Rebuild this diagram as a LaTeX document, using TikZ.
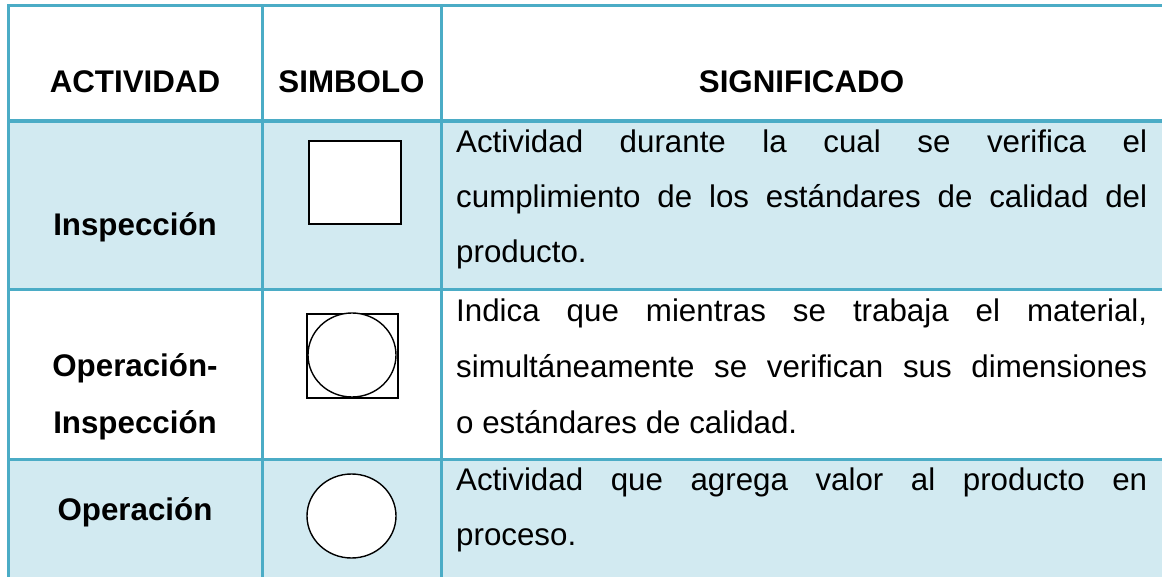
\documentclass[tikz,border=0pt]{standalone}
\usepackage{fontspec}
\setmainfont{Liberation Sans}
\definecolor{gridteal}{HTML}{4BACC6}
\definecolor{bandblue}{HTML}{D2EAF1}
\begin{document}
\begin{tikzpicture}[x=1pt,y=-1pt,
  gridline/.style={draw=gridteal,line width=3pt},
  headline/.style={draw=gridteal,line width=4pt},
  band/.style={fill=bandblue,draw=none},
  symb/.style={draw=black,fill=white,line width=1.4pt},
  txt/.style={inner sep=0pt,anchor=base west,font=\fontsize{31.3}{37}\selectfont},
  ctxt/.style={inner sep=0pt,anchor=base,font=\fontsize{31.3}{37}\selectfont\bfseries},
  just/.style={txt}]
\useasboundingbox (0,0) rectangle (1162,577);
\fill[white] (0,0) rectangle (1162,577);
% bands
\path[band] (8,121) rectangle (1162,290);
\path[band] (8,459) rectangle (1162,577);
% grid
\draw[gridline] (8,6) -- (1162,6);
\draw[headline] (8,121) -- (1162,121);
\draw[gridline] (8,290) -- (1162,290);
\draw[gridline] (8,459) -- (1162,459);
\draw[gridline] (8,4.5) -- (8,577);
\draw[gridline] (262,4.5) -- (262,577);
\draw[gridline] (441,4.5) -- (441,577);
% header
\node[ctxt] (hAct) at (135,93) {ACTIVIDAD};
\node[ctxt] (hSim) at (351.5,93) {SIMBOLO};
\node[ctxt] (hSig) at (801.5,93) {SIGNIFICADO};
% column 1
\node[ctxt] (aInsp) at (135,236) {Inspección};
\node[ctxt] (aOpIn1) at (135,376) {Operación-};
\node[ctxt] (aOpIn2) at (135,433) {Inspección};
\node[ctxt] (aOp) at (135,520) {Operación};
% symbols
\draw[symb] (309,141) rectangle (401,224);
\draw[symb] (307,314) rectangle (398,398);
\draw[symb] (352,355) ellipse [x radius=44, y radius=42];
\draw[symb] (351.5,516) ellipse [x radius=44.5, y radius=42];
% column 3
\node[just] (s11) at (456,153) {\makebox[691pt][s]{Actividad durante la cual se verifica el}};
\node[just] (s12) at (456,208) {\makebox[691pt][s]{cumplimiento de los estándares de calidad del}};
\node[txt] (s13) at (456,263) {producto.};
\node[just] (s21) at (456,322) {\makebox[691pt][s]{Indica que mientras se trabaja el material,}};
\node[just] (s22) at (456,377) {\makebox[691pt][s]{simultáneamente se verifican sus dimensiones}};
\node[txt] (s23) at (456,433) {o estándares de calidad.};
\node[just] (s31) at (456,490) {\makebox[691pt][s]{Actividad que agrega valor al producto en}};
\node[txt] (s32) at (456,545) {proceso.};
\end{tikzpicture}
\end{document}
